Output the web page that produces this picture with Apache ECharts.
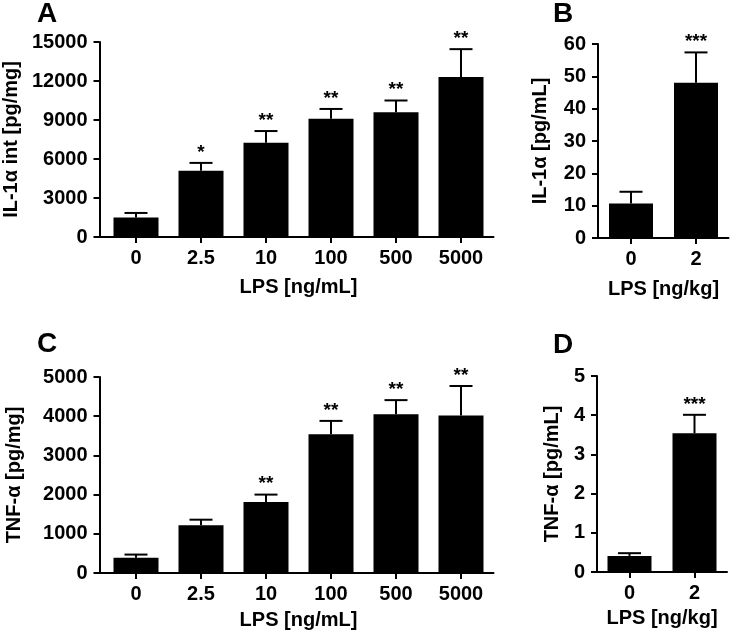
<!DOCTYPE html>
<html>
<head>
<meta charset="utf-8">
<script src="https://cdn.jsdelivr.net/npm/echarts@6/dist/echarts.min.js"></script>
<style>
html,body{margin:0;padding:0;background:#fff;}
#chart{width:730px;height:633px;}
</style>
</head>
<body>
<div id="chart"></div>
<script>
// ---- Data ----
const lpsInVitro = ['0', '2.5', '10', '100', '500', '5000'];
const lpsInVivo = ['0', '2'];

const il1aIntMean = [1500, 5100, 7250, 9100, 9600, 12300];
const il1aIntSem  = [350, 600, 900, 750, 900, 2150];
const il1aIntStars = ['', '*', '**', '**', '**', '**'];

const il1aPlasmaMean = [10.7, 48];
const il1aPlasmaSem  = [3.6, 9.4];
const il1aPlasmaStars = ['', '***'];

const tnfIntMean = [390, 1220, 1810, 3540, 4050, 4020];
const tnfIntSem  = [80, 140, 190, 340, 360, 750];
const tnfIntStars = ['', '', '**', '**', '**', '**'];

const tnfPlasmaMean = [0.41, 3.54];
const tnfPlasmaSem  = [0.07, 0.47];
const tnfPlasmaStars = ['', '***'];

const yTicksA = {min: 0, max: 15000, interval: 3000};
const yTicksB = {min: 0, max: 60, interval: 10};
const yTicksC = {min: 0, max: 5000, interval: 1000};
const yTicksD = {min: 0, max: 5, interval: 1};

// ---- Layout ----
const FONT = '"Liberation Sans", Arial, Helvetica, sans-serif';
const panels = [
  {letter: 'A', cats: lpsInVitro, mean: il1aIntMean, sem: il1aIntSem, stars: il1aIntStars, ticks: yTicksA,
   yName: 'IL-1\u03b1 int [pg/mg]', xName: 'LPS [ng/mL]',
   grid: {left: 103.5, top: 42, width: 390, height: 195}, yOffset: 4, yNameGap: 78, xNameGap: 40, barW: 45,
   letterPos: [37, 0]},
  {letter: 'B', cats: lpsInVivo, mean: il1aPlasmaMean, sem: il1aPlasmaSem, stars: il1aPlasmaStars, ticks: yTicksB,
   yName: 'IL-1\u03b1 [pg/mL]', xName: 'LPS [ng/kg]',
   grid: {left: 598.5, top: 44, width: 130, height: 194}, yOffset: 0.5, yNameGap: 48, xNameGap: 41, barW: 44,
   letterPos: [553, 0]},
  {letter: 'C', cats: lpsInVitro, mean: tnfIntMean, sem: tnfIntSem, stars: tnfIntStars, ticks: yTicksC,
   yName: 'TNF-\u03b1 [pg/mg]', xName: 'LPS [ng/mL]',
   grid: {left: 103.5, top: 377, width: 390, height: 196}, yOffset: 4, yNameGap: 75, xNameGap: 37, barW: 45,
   letterPos: [37, 330]},
  {letter: 'D', cats: lpsInVivo, mean: tnfPlasmaMean, sem: tnfPlasmaSem, stars: tnfPlasmaStars, ticks: yTicksD,
   yName: 'TNF-\u03b1 [pg/mL]', xName: 'LPS [ng/kg]',
   grid: {left: 597, top: 376, width: 130, height: 196}, yOffset: 0, yNameGap: 35, xNameGap: 36, barW: 44,
   letterPos: [553, 331]}
];

const axisLine = {show: true, lineStyle: {color: '#000', width: 2}};
const axisTick = {show: true, length: 6, lineStyle: {color: '#000', width: 2}};
const labelStyle = {color: '#000', fontFamily: FONT, fontWeight: 'bold', fontSize: 20};
const nameStyle = {color: '#000', fontFamily: FONT, fontWeight: 'bold', fontSize: 20};

const grids = [], xAxes = [], yAxes = [], series = [], graphics = [];

panels.forEach((p, i) => {
  grids.push(Object.assign({containLabel: false, outerBoundsMode: 'none'}, p.grid));
  xAxes.push({
    type: 'category', gridIndex: i, data: p.cats,
    axisLine: axisLine, axisTick: Object.assign({alignWithLabel: true}, axisTick),
    axisLabel: Object.assign({margin: 11}, labelStyle),
    name: p.xName, nameLocation: 'middle', nameGap: p.xNameGap, nameTextStyle: nameStyle,
    splitLine: {show: false}
  });
  yAxes.push({
    type: 'value', gridIndex: i, min: p.ticks.min, max: p.ticks.max, interval: p.ticks.interval,
    offset: p.yOffset,
    axisLine: axisLine, axisTick: axisTick,
    axisLabel: Object.assign({margin: 12, formatter: v => String(v)}, labelStyle),
    name: p.yName, nameLocation: 'middle', nameGap: p.yNameGap, nameTextStyle: nameStyle,
    splitLine: {show: false}
  });
  series.push({
    type: 'bar', xAxisIndex: i, yAxisIndex: i, data: p.mean, barWidth: p.barW,
    itemStyle: {color: '#000'}, silent: true, animation: false
  });
  const errData = p.mean.map((m, k) => [k, m, m + p.sem[k]]);
  series.push({
    type: 'custom', xAxisIndex: i, yAxisIndex: i, data: errData, animation: false, silent: true, z: 5,
    encode: {x: 0, y: [1, 2]},
    renderItem: function (params, api) {
      const c = api.coord([api.value(0), api.value(1)]);
      const t = api.coord([api.value(0), api.value(2)]);
      const star = p.stars[params.dataIndex];
      const children = [
        {type: 'line', shape: {x1: c[0], y1: c[1], x2: t[0], y2: t[1]}, style: {stroke: '#000', lineWidth: 2}},
        {type: 'line', shape: {x1: t[0] - 11.5, y1: t[1], x2: t[0] + 11.5, y2: t[1]}, style: {stroke: '#000', lineWidth: 2}}
      ];
      if (star) {
        children.push({type: 'text', x: t[0], y: t[1] - 1,
          style: {text: star, fill: '#000', font: 'bold 19px ' + FONT, align: 'center', verticalAlign: 'bottom'}});
      }
      return {type: 'group', children: children};
    }
  });
  // bridge x-axis line to the offset y-axis line
  if (p.yOffset > 0) {
    const yBottom = p.grid.top + p.grid.height;
    graphics.push({type: 'line', silent: true,
      shape: {x1: p.grid.left - p.yOffset - 1, y1: yBottom, x2: p.grid.left, y2: yBottom},
      style: {stroke: '#000', lineWidth: 2}});
  }
  graphics.push({type: 'text', left: p.letterPos[0], top: p.letterPos[1],
    style: {text: p.letter, fill: '#000', font: 'bold 28px ' + FONT}});
});

const chart = echarts.init(document.getElementById('chart'), null, {renderer: 'canvas'});
chart.setOption({
  backgroundColor: '#fff',
  animation: false,
  grid: grids, xAxis: xAxes, yAxis: yAxes, series: series, graphic: graphics
});
</script>
</body>
</html>
